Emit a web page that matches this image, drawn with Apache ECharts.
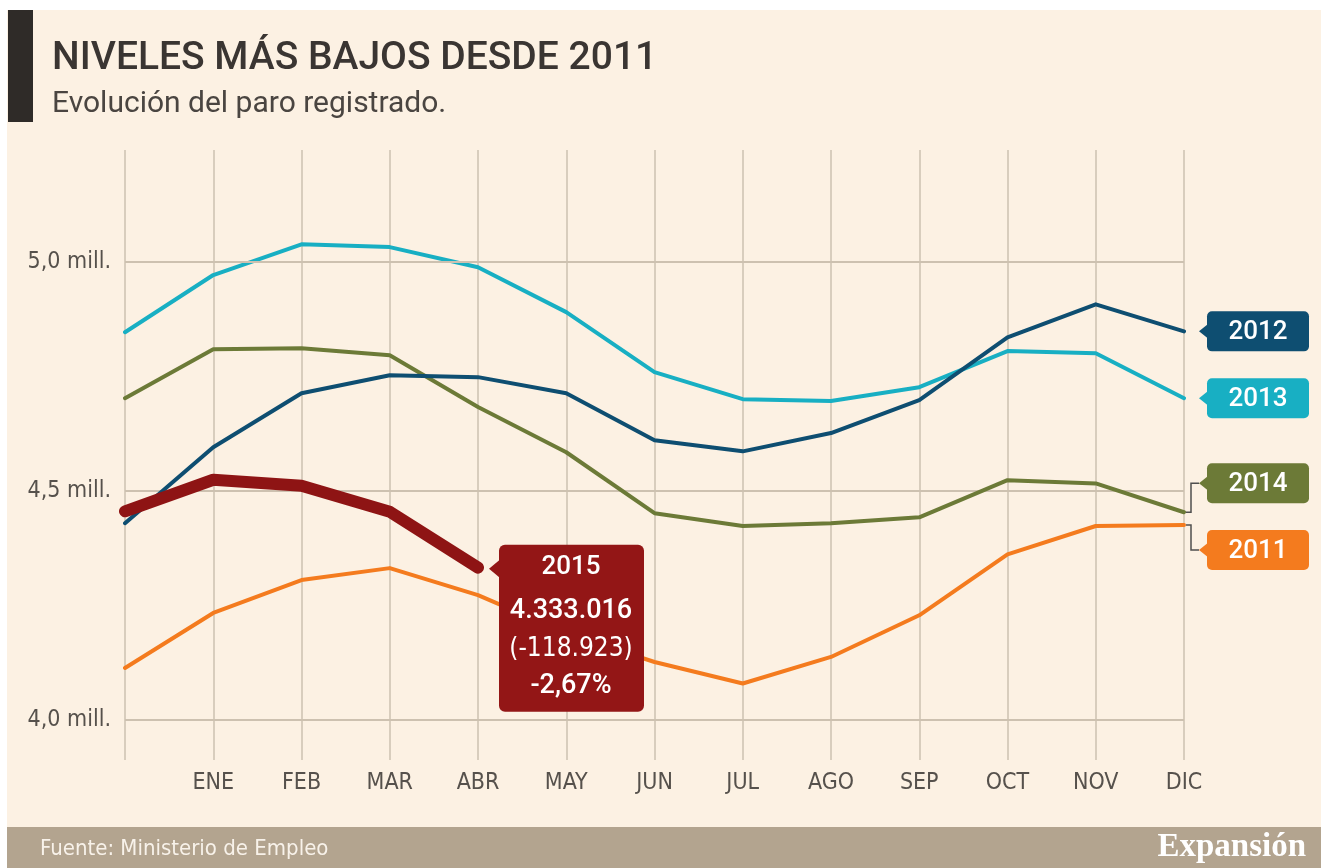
<!DOCTYPE html>
<html>
<head>
<meta charset="utf-8">
<script src="https://cdn.jsdelivr.net/npm/echarts@6/dist/echarts.min.js"></script>
<style>
html, body { margin: 0; padding: 0; background: #fff; }
#chart { width: 1321px; height: 868px; }
</style>
</head>
<body>
<div id="chart"></div>
<script>
// meses; el primer punto (sin etiqueta) es diciembre del año anterior
var months = ['', 'ENE', 'FEB', 'MAR', 'ABR', 'MAY', 'JUN', 'JUL', 'AGO', 'SEP', 'OCT', 'NOV', 'DIC'];

// paro registrado, millones de personas
var paro2011 = [4.114, 4.234, 4.306, 4.332, 4.273, 4.190, 4.127, 4.080, 4.138, 4.229, 4.362, 4.424, 4.426];
var paro2012 = [4.430, 4.596, 4.714, 4.753, 4.749, 4.714, 4.611, 4.587, 4.627, 4.699, 4.836, 4.908, 4.849];
var paro2013 = [4.847, 4.972, 5.039, 5.033, 4.989, 4.891, 4.760, 4.701, 4.697, 4.727, 4.806, 4.801, 4.703];
var paro2014 = [4.703, 4.810, 4.812, 4.797, 4.684, 4.585, 4.452, 4.424, 4.430, 4.443, 4.524, 4.517, 4.454];
var paro2015 = [4.456, 4.525, 4.512, 4.455, 4.333];

var yTicks = [4.0, 4.5, 5.0];
var callout2015 = ['2015', '4.333.016', '(-118.923)', '-2,67%'];

var colors = {
    '2011': '#f47b1e',
    '2012': '#0e4e71',
    '2013': '#18afc3',
    '2014': '#6c7a37',
    '2015': '#8e1414'
};

var gridColor = '#cdc1b0';
var narrow = "'Liberation Sans Narrow', 'DejaVu Sans Condensed', sans-serif";
var yMin = 3.913, yMax = 5.245;

var chart = echarts.init(document.getElementById('chart'));

function lineSeries(name, data, width, z) {
    return {
        name: name,
        type: 'line',
        data: data,
        symbol: 'none',
        silent: true,
        z: z,
        lineStyle: { color: colors[name], width: width, cap: 'round', join: 'round' },
        itemStyle: { color: colors[name] }
    };
}

var option = {
    backgroundColor: '#fcf1e3',
    animation: false,
    textStyle: { fontFamily: narrow },
    grid: { left: 125, right: 137, top: 150, bottom: 108 },
    xAxis: {
        type: 'category',
        data: months,
        boundaryGap: false,
        axisLine: { show: false },
        axisTick: { show: false },
        axisLabel: { color: '#56514c', fontSize: 23, fontFamily: narrow, margin: 12 },
        splitLine: { show: true, lineStyle: { color: gridColor, width: 1.5 } }
    },
    yAxis: {
        type: 'value',
        min: yMin,
        max: yMax,
        axisLine: { show: false },
        axisTick: { show: false },
        splitLine: { show: false },
        axisLabel: {
            customValues: yTicks,
            color: '#56514c',
            fontSize: 23,
            fontFamily: narrow,
            margin: 14,
            formatter: function (v) { return v.toFixed(1).replace('.', ',') + ' mill.'; }
        }
    },
    series: [
        {
            name: 'grid',
            type: 'line',
            data: [],
            z: 1,
            silent: true,
            markLine: {
                silent: true,
                symbol: 'none',
                label: { show: false },
                lineStyle: { color: gridColor, width: 2, type: 'solid' },
                data: yTicks.concat([yMax]).map(function (v) { return { yAxis: v }; })
            }
        },
        lineSeries('2011', paro2011, 4, 3),
        lineSeries('2013', paro2013, 4, 4),
        lineSeries('2014', paro2014, 4, 5),
        lineSeries('2012', paro2012, 4, 6),
        lineSeries('2015', paro2015, 12, 7)
    ]
};

chart.setOption(option);

function toPx(idx, val) {
    return chart.convertToPixel({ xAxisIndex: 0, yAxisIndex: 0 }, [idx, val]);
}

function txt(text, x, y, font, fill, align) {
    return {
        type: 'text', x: x, y: y, z: 102,
        style: {
            text: text, font: font, fill: fill,
            align: align || 'center', textAlign: align || 'center',
            verticalAlign: 'middle', textVerticalAlign: 'middle'
        }
    };
}

var graphics = [];

// marco superior e izquierdo blanco, barra oscura y faja de fuente
graphics.push({ type: 'rect', z: 100, shape: { x: 0, y: 0, width: 1321, height: 10 }, style: { fill: '#ffffff' } });
graphics.push({ type: 'rect', z: 100, shape: { x: 0, y: 0, width: 7, height: 868 }, style: { fill: '#ffffff' } });
graphics.push({ type: 'rect', z: 100, shape: { x: 8, y: 10, width: 25, height: 112 }, style: { fill: '#2f2b28' } });
graphics.push(txt('NIVELES MÁS BAJOS DESDE 2011', 52, 59, '500 39px Roboto', '#3a3532', 'left'));
graphics.push(txt('Evolución del paro registrado.', 52, 104, '30px Roboto', '#4a4541', 'left'));
graphics.push({ type: 'rect', z: 100, shape: { x: 7, y: 827, width: 1314, height: 41 }, style: { fill: '#b3a48f' } });
graphics.push(txt('Fuente: Ministerio de Empleo', 40, 849, '22px ' + narrow, '#f8f2ea', 'left'));
graphics.push(txt('Expansión', 1306, 847, 'bold 33px "Liberation Serif", serif', '#ffffff', 'right'));

// etiquetas de año a la derecha
var tags = [
    { year: '2012', data: paro2012, dy: 0 },
    { year: '2013', data: paro2013, dy: 0 },
    { year: '2014', data: paro2014, dy: -29 },
    { year: '2011', data: paro2011, dy: 25 }
];
tags.forEach(function (t) {
    var p = toPx(t.data.length - 1, t.data[t.data.length - 1]);
    var c = colors[t.year];
    var tipX = p[0] + 15, y = p[1] + t.dy;
    if (t.dy !== 0) {
        graphics.push({
            type: 'polyline', z: 101,
            shape: { points: [[p[0] + 2, p[1]], [p[0] + 7, p[1]], [p[0] + 7, y], [tipX, y]] },
            style: { stroke: '#4f4f4f', lineWidth: 1.5, fill: null }
        });
    }
    graphics.push({ type: 'polygon', z: 101, shape: { points: [[tipX, y], [tipX + 10, y - 8], [tipX + 10, y + 8]] }, style: { fill: c } });
    graphics.push({ type: 'rect', z: 101, shape: { x: tipX + 8, y: y - 20, width: 102, height: 40, r: 5 }, style: { fill: c } });
    graphics.push(txt(t.year, tipX + 59, y + 1, '500 26px Roboto', '#ffffff'));
});

// recuadro 2015
var last = toPx(paro2015.length - 1, paro2015[paro2015.length - 1]);
var cx = last[0], cy = last[1];
var red = '#931616';
graphics.push({ type: 'polygon', z: 101, shape: { points: [[cx + 11, cy + 1], [cx + 23, cy - 9], [cx + 23, cy + 11]] }, style: { fill: red } });
graphics.push({ type: 'rect', z: 101, shape: { x: cx + 21, y: cy - 23, width: 145, height: 167, r: 6 }, style: { fill: red } });
graphics.push(txt(callout2015[0], cx + 93, cy, '500 26px Roboto', '#ffffff'));
graphics.push(txt(callout2015[1], cx + 93, cy + 44, '500 27px Roboto', '#ffffff'));
graphics.push(txt(callout2015[2], cx + 93, cy + 82, '26px ' + narrow, '#ffffff'));
graphics.push(txt(callout2015[3], cx + 93, cy + 119, '500 27px Roboto', '#ffffff'));

chart.setOption({ graphic: graphics });
</script>
</body>
</html>
